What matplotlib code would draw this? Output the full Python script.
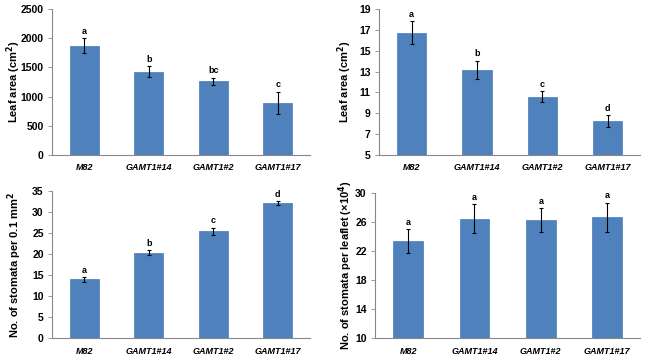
import matplotlib
matplotlib.use("Agg")
import matplotlib.pyplot as plt
import numpy as np

plt.rcParams['font.family'] = ['Liberation Sans', 'DejaVu Sans']
plt.rcParams['font.weight'] = 'bold'
plt.rcParams['mathtext.default'] = 'bf'

lines = ['M82', 'GAMT1#14', 'GAMT1#2', 'GAMT1#17']

# leaf area, whole plant
leaf_area_plant = [1875, 1430, 1265, 890]
leaf_area_plant_err = [120, 95, 60, 195]
leaf_area_plant_sig = ['a', 'b', 'bc', 'c']

# leaf area, leaflet
leaf_area_leaflet = [16.7, 13.15, 10.6, 8.25]
leaf_area_leaflet_err = [1.1, 0.9, 0.55, 0.6]
leaf_area_leaflet_sig = ['a', 'b', 'c', 'd']

# stomata density
stomata_density = [14.0, 20.3, 25.4, 32.1]
stomata_density_err = [0.55, 0.6, 0.9, 0.55]
stomata_density_sig = ['a', 'b', 'c', 'd']

# stomata per leaflet
stomata_leaflet = [23.4, 26.5, 26.3, 26.7]
stomata_leaflet_err = [1.7, 2.0, 1.6, 2.0]
stomata_leaflet_sig = ['a', 'a', 'a', 'a']

fig = plt.figure(figsize=(6.5, 3.59), dpi=100)

panels = [
    ([0.080, 0.568, 0.397, 0.407], leaf_area_plant, leaf_area_plant_err, leaf_area_plant_sig,
     (0, 2500), np.arange(0, 2501, 500), 'Leaf area (cm$^2$)', -0.113),
    ([0.583, 0.568, 0.402, 0.407], leaf_area_leaflet, leaf_area_leaflet_err, leaf_area_leaflet_sig,
     (5, 19), np.arange(5, 20, 2), 'Leaf area (cm$^2$)', -0.097),
    ([0.080, 0.058, 0.397, 0.410], stomata_density, stomata_density_err, stomata_density_sig,
     (0, 35), np.arange(0, 36, 5), 'No. of stomata per 0.1 mm$^2$', -0.107),
    ([0.577, 0.058, 0.408, 0.404], stomata_leaflet, stomata_leaflet_err, stomata_leaflet_sig,
     (10, 30), np.arange(10, 31, 4), 'No. of stomata per leaflet (\u00d710$^4$)', -0.077),
]

x = np.arange(len(lines))
for rect, vals, errs, sig, ylim, ticks, ylabel, lab_x in panels:
    ax = fig.add_axes(rect)
    ax.bar(x, vals, width=0.45, color='#4F81BD', edgecolor='#4A7AB5', linewidth=0.5,
           zorder=2)
    ax.errorbar(x, vals, yerr=errs, fmt='none', ecolor='black', elinewidth=0.8,
                capsize=1.5, capthick=0.8, zorder=3)
    span = ylim[1] - ylim[0]
    for xi, v, e, s in zip(x, vals, errs, sig):
        ax.text(xi, v + e + span * 0.015, s, ha='center', va='bottom',
                fontsize=6.5, fontweight='bold')
    ax.set_xlim(-0.5, len(lines) - 0.5)
    ax.set_ylim(*ylim)
    ax.set_yticks(ticks)
    ax.set_xticks(x)
    ax.set_xticklabels(lines, fontsize=6.5, fontstyle='italic', fontweight='bold')
    ax.tick_params(axis='y', labelsize=7.5, length=3, width=0.6, color='#888888', pad=3)
    ax.tick_params(axis='x', length=0, pad=6)
    ax.set_ylabel(ylabel, fontsize=8, fontweight='bold')
    ax.yaxis.set_label_coords(lab_x, 0.5)
    for side in ['top', 'right']:
        ax.spines[side].set_visible(False)
    for side in ['left', 'bottom']:
        ax.spines[side].set_color('#888888')
        ax.spines[side].set_linewidth(0.8)

fig.savefig('out.png', dpi=100)
